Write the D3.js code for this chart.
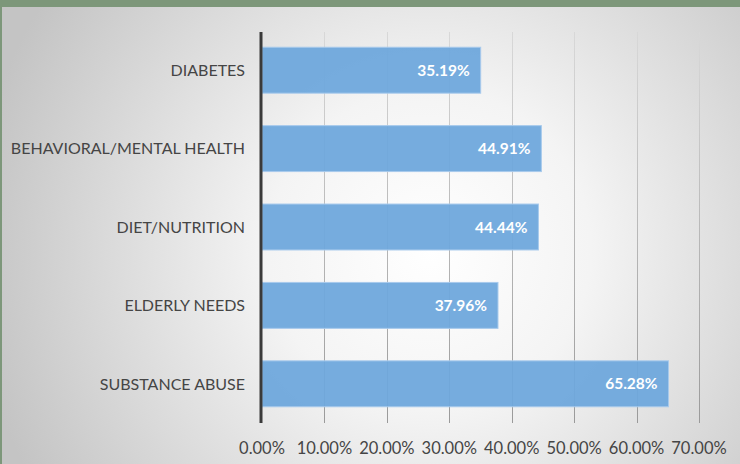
<!DOCTYPE html>
<html><head><meta charset="utf-8">
<script src="https://cdn.jsdelivr.net/npm/d3@7"></script>
<style>html,body{margin:0;padding:0;background:#fff;}svg{display:block;}</style>
</head><body>
<svg id="chart" width="740" height="464"></svg>
<script>
const categories = ["DIABETES", "BEHAVIORAL/MENTAL HEALTH", "DIET/NUTRITION", "ELDERLY NEEDS", "SUBSTANCE ABUSE"];
const values = [35.19, 44.91, 44.44, 37.96, 65.28];
const tickValues = [0, 10, 20, 30, 40, 50, 60, 70];

const svg = d3.select("#chart");
const W = 740, H = 464;
const defs = svg.append("defs");
const rg = defs.append("radialGradient").attr("id", "bg")
  .attr("gradientUnits", "userSpaceOnUse").attr("cx", 430).attr("cy", 250).attr("r", 460);
rg.append("stop").attr("offset", "0").attr("stop-color", "#ffffff");
rg.append("stop").attr("offset", "0.35").attr("stop-color", "#f4f4f4");
rg.append("stop").attr("offset", "1").attr("stop-color", "#c4c4c4");
const gg = defs.append("linearGradient").attr("id", "grid")
  .attr("gradientUnits", "userSpaceOnUse").attr("x1", 0).attr("y1", 32).attr("x2", 0).attr("y2", 423);
gg.append("stop").attr("offset", "0").attr("stop-color", "#d8d8d8");
gg.append("stop").attr("offset", "1").attr("stop-color", "#9a9a9a");

svg.append("rect").attr("width", W).attr("height", H).attr("fill", "url(#bg)");
svg.append("rect").attr("x", 0).attr("y", 0).attr("width", W).attr("height", 7).attr("fill", "#7d977a");
svg.append("rect").attr("x", 0).attr("y", 0).attr("width", 2).attr("height", H).attr("fill", "#7d977a");

const x = d3.scaleLinear().domain([0, 70]).range([262, 699]);
const y = d3.scaleBand().domain(categories).range([31, 423]).paddingInner(0.414).paddingOuter(0.207);

// gridlines
svg.append("g").selectAll("line").data(tickValues.slice(1)).join("line")
  .attr("x1", d => Math.round(x(d)) + 0.5).attr("x2", d => Math.round(x(d)) + 0.5)
  .attr("y1", 32).attr("y2", 423)
  .attr("stroke", "url(#grid)").attr("stroke-width", 1);

// bars
svg.append("g").selectAll("rect").data(values).join("rect")
  .attr("x", x(0)).attr("y", (d, i) => y(categories[i]))
  .attr("width", d => x(d) - x(0) - 1).attr("height", y.bandwidth())
  .attr("fill", "#6fa8dc").attr("fill-opacity", 0.95)
  .attr("stroke", "#a8caec").attr("stroke-width", 1);

// zero axis line
svg.append("line").attr("x1", x(0) - 1).attr("x2", x(0) - 1).attr("y1", 32).attr("y2", 423)
  .attr("stroke", "#3a3a3a").attr("stroke-width", 3);

const font = "Lato, 'Open Sans', sans-serif";
// value labels
svg.append("g").selectAll("text").data(values).join("text")
  .attr("x", d => x(d) - 12).attr("y", (d, i) => y(categories[i]) + y.bandwidth() / 2)
  .attr("dy", "0.36em").attr("text-anchor", "end")
  .attr("font-family", font).attr("font-weight", "bold").attr("font-size", 15.5)
  .attr("fill", "#ffffff").text(d => d.toFixed(2) + "%");

// category labels
svg.append("g").selectAll("text").data(categories).join("text")
  .attr("x", 245).attr("y", d => y(d) + y.bandwidth() / 2)
  .attr("dy", "0.36em").attr("text-anchor", "end")
  .attr("font-family", font).attr("font-size", 16)
  .attr("fill", "#454545").text(d => d);

// x axis tick labels
svg.append("g").selectAll("text").data(tickValues).join("text")
  .attr("x", d => x(d)).attr("y", 448).attr("dy", "0.36em").attr("text-anchor", "middle")
  .attr("font-family", font).attr("font-size", 16.5)
  .attr("fill", "#454545").text(d => d.toFixed(2) + "%");
</script>
</body></html>
